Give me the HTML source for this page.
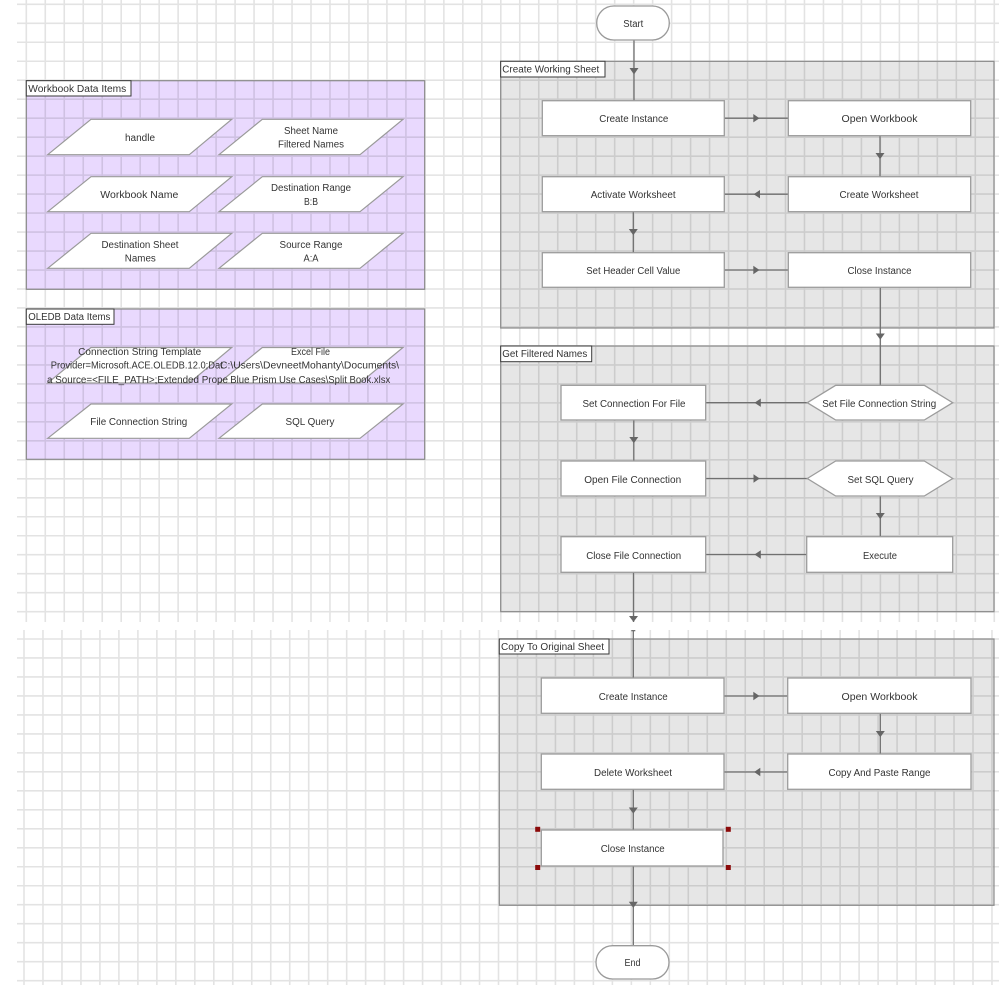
<!DOCTYPE html>
<html>
<head>
<meta charset="utf-8">
<style>
html,body{margin:0;padding:0;background:#fff;}
svg{display:block;}
text{font-family:"Liberation Sans",Arial,sans-serif;font-size:10px;fill:#333;}
</style>
</head>
<body>
<svg width="999" height="985" viewBox="0 0 999 985" xmlns="http://www.w3.org/2000/svg">

<!-- background -->
<rect x="0" y="0" width="999" height="985" fill="#fff"/>

<!-- group fills -->
<rect x="26.3" y="80.7" width="398.4" height="208.6" fill="#e9d9fe"/>
<rect x="26.3" y="309" width="398.4" height="150.3" fill="#e9d9fe"/>
<rect x="500.7" y="61.3" width="493.3" height="266.7" fill="#e6e6e6"/>
<rect x="500.7" y="346" width="493.3" height="265.7" fill="#e6e6e6"/>
<rect x="499.3" y="639" width="494.7" height="266.3" fill="#e6e6e6"/>

<!-- grid upper -->
<path fill="none" stroke="rgba(0,0,0,0.11)" stroke-width="1.6" d="
M26.3 0V622M45.28 0V622M64.26 0V622M83.24 0V622M102.22 0V622M121.2 0V622M140.18 0V622M159.16 0V622M178.14 0V622M197.12 0V622
M216.1 0V622M235.08 0V622M254.06 0V622M273.04 0V622M292.02 0V622M311 0V622M329.98 0V622M348.96 0V622M367.94 0V622M386.92 0V622
M405.9 0V622M424.88 0V622M443.86 0V622M462.84 0V622M481.82 0V622M500.8 0V622M519.78 0V622M538.76 0V622M557.74 0V622M576.72 0V622
M595.7 0V622M614.68 0V622M633.66 0V622M652.64 0V622M671.62 0V622M690.6 0V622M709.58 0V622M728.56 0V622M747.54 0V622M766.52 0V622
M785.5 0V622M804.48 0V622M823.46 0V622M842.44 0V622M861.42 0V622M880.4 0V622M899.38 0V622M918.36 0V622M937.34 0V622M956.32 0V622
M975.3 0V622M994.28 0V622
M17 4.3H999M17 23.28H999M17 42.26H999M17 61.24H999M17 80.22H999M17 99.2H999M17 118.18H999M17 137.16H999M17 156.14H999M17 175.12H999
M17 194.1H999M17 213.08H999M17 232.06H999M17 251.04H999M17 270.02H999M17 289H999M17 307.98H999M17 326.96H999M17 345.94H999M17 364.92H999
M17 383.9H999M17 402.88H999M17 421.86H999M17 440.84H999M17 459.82H999M17 478.8H999M17 497.78H999M17 516.76H999M17 535.74H999M17 554.72H999
M17 573.7H999M17 592.68H999M17 611.66H999"/>

<!-- grid lower -->
<path fill="none" stroke="rgba(0,0,0,0.11)" stroke-width="1.6" d="
M24 630V985M42.98 630V985M61.96 630V985M80.94 630V985M99.92 630V985M118.9 630V985M137.88 630V985M156.86 630V985M175.84 630V985M194.82 630V985
M213.8 630V985M232.78 630V985M251.76 630V985M270.74 630V985M289.72 630V985M308.7 630V985M327.68 630V985M346.66 630V985M365.64 630V985M384.62 630V985
M403.6 630V985M422.58 630V985M441.56 630V985M460.54 630V985M479.52 630V985M498.5 630V985M517.48 630V985M536.46 630V985M555.44 630V985M574.42 630V985
M593.4 630V985M612.38 630V985M631.36 630V985M650.34 630V985M669.32 630V985M688.3 630V985M707.28 630V985M726.26 630V985M745.24 630V985M764.22 630V985
M783.2 630V985M802.18 630V985M821.16 630V985M840.14 630V985M859.12 630V985M878.1 630V985M897.08 630V985M916.06 630V985M935.04 630V985M954.02 630V985
M973 630V985M991.98 630V985
M17 639H999M17 657.98H999M17 676.96H999M17 695.94H999M17 714.92H999M17 733.9H999M17 752.88H999M17 771.86H999M17 790.84H999M17 809.82H999
M17 828.8H999M17 847.78H999M17 866.76H999M17 885.74H999M17 904.72H999M17 923.7H999M17 942.68H999M17 961.66H999M17 980.64H999"/>

<!-- group borders -->
<g fill="none" stroke="#8a8a8a" stroke-width="1.2">
  <rect x="26.3" y="80.7" width="398.4" height="208.6"/>
  <rect x="26.3" y="309" width="398.4" height="150.3"/>
  <rect x="500.7" y="61.3" width="493.3" height="266.7"/>
  <rect x="500.7" y="346" width="493.3" height="265.7"/>
  <rect x="499.3" y="639" width="494.7" height="266.3"/>
</g>

<!-- connectors -->
<g stroke="#707070" stroke-width="1.3" fill="none">
  <line x1="634" y1="40" x2="634" y2="100.7"/>
  <line x1="724.3" y1="118.2" x2="788.3" y2="118.2"/>
  <line x1="880" y1="135.7" x2="880" y2="176.7"/>
  <line x1="724.3" y1="194.2" x2="788.3" y2="194.2"/>
  <line x1="633.3" y1="211.7" x2="633.3" y2="252.7"/>
  <line x1="724.3" y1="270" x2="788.3" y2="270"/>
  <line x1="880.3" y1="287.3" x2="880.3" y2="385.3"/>
  <line x1="705.7" y1="402.7" x2="807.3" y2="402.7"/>
  <line x1="633.8" y1="420" x2="633.8" y2="461"/>
  <line x1="705.7" y1="478.5" x2="807.3" y2="478.5"/>
  <line x1="880.3" y1="496" x2="880.3" y2="536.7"/>
  <line x1="705.7" y1="554.5" x2="806.7" y2="554.5"/>
  <line x1="633.5" y1="572.3" x2="633.5" y2="622"/>
  <line x1="633.3" y1="631" x2="633.3" y2="678"/>
  <line x1="724" y1="696" x2="787.7" y2="696"/>
  <line x1="880.3" y1="713.3" x2="880.3" y2="754"/>
  <line x1="724" y1="772" x2="787.7" y2="772"/>
  <line x1="633.3" y1="789.3" x2="633.3" y2="830"/>
  <line x1="633.3" y1="866" x2="633.3" y2="946"/>
</g>
<rect x="631.3" y="630" width="4" height="1.3" fill="#707070"/>

<!-- arrowheads -->
<g fill="#666">
  <polygon points="629.5,68 638.5,68 634,74.5"/>
  <polygon points="753.3,114 753.3,122.4 759.5,118.2"/>
  <polygon points="875.5,153 884.5,153 880,159.3"/>
  <polygon points="760,190 760,198.4 753.6,194.2"/>
  <polygon points="628.8,229 637.8,229 633.3,235.3"/>
  <polygon points="753.3,265.8 753.3,274.2 759.5,270"/>
  <polygon points="875.8,333.5 884.8,333.5 880.3,339.8"/>
  <polygon points="760.8,398.5 760.8,406.9 754.5,402.7"/>
  <polygon points="629.3,437 638.3,437 633.8,443.3"/>
  <polygon points="753.5,474.3 753.5,482.7 759.7,478.5"/>
  <polygon points="875.8,513 884.8,513 880.3,519.3"/>
  <polygon points="760.8,550.3 760.8,558.7 754.5,554.5"/>
  <polygon points="629,616 638,616 633.5,622"/>
  <polygon points="753.3,691.8 753.3,700.2 759.5,696"/>
  <polygon points="875.8,731 884.8,731 880.3,737.2"/>
  <polygon points="760.3,767.8 760.3,776.2 754.1,772"/>
  <polygon points="628.8,807.5 637.8,807.5 633.3,813.7"/>
  <polygon points="628.8,901.8 637.8,901.8 633.3,908"/>
</g>

<!-- terminals -->
<g fill="#fff" stroke="#9a9a9a" stroke-width="1.3">
  <rect x="596.7" y="6" width="72.6" height="34" rx="17" ry="17"/>
  <rect x="596" y="945.7" width="73" height="33.3" rx="16.6" ry="16.6"/>
</g>

<!-- process nodes -->
<g fill="#fff" stroke="#9c9c9c" stroke-width="1.3">
  <rect x="542.3" y="100.7" width="182" height="35"/>
  <rect x="788.3" y="100.7" width="182.4" height="35"/>
  <rect x="542.3" y="176.7" width="182" height="35"/>
  <rect x="788.3" y="176.7" width="182.4" height="35"/>
  <rect x="542.3" y="252.7" width="182" height="34.6"/>
  <rect x="788.3" y="252.7" width="182.4" height="34.6"/>

  <rect x="561" y="385.3" width="144.7" height="34.7"/>
  <polygon points="807.3,402.7 835.7,385.3 924.3,385.3 952.7,402.7 924.3,420 835.7,420"/>
  <rect x="561" y="461" width="144.7" height="35"/>
  <polygon points="807.3,478.5 835.7,461 924.3,461 952.7,478.5 924.3,496 835.7,496"/>
  <rect x="561" y="536.7" width="144.7" height="35.6"/>
  <rect x="806.7" y="536.7" width="146" height="35.6"/>

  <rect x="541.3" y="678" width="182.7" height="35.3"/>
  <rect x="787.7" y="678" width="183.3" height="35.3"/>
  <rect x="541.3" y="754" width="182.7" height="35.3"/>
  <rect x="787.7" y="754" width="183.3" height="35.3"/>
  <rect x="541.3" y="830" width="181.7" height="36"/>
</g>

<!-- data item parallelograms -->
<g fill="#fff" stroke="#9a9a9a" stroke-width="1.2">
  <polygon points="47.7,154.7 91,119.3 231.7,119.3 189.3,154.7"/>
  <polygon points="219,154.7 262.3,119.3 403,119.3 360,154.7"/>
  <polygon points="47.7,211.7 91,176.7 231.7,176.7 189.3,211.7"/>
  <polygon points="219,211.7 262.3,176.7 403,176.7 360,211.7"/>
  <polygon points="47.7,268.3 91,233.3 231.7,233.3 189.3,268.3"/>
  <polygon points="219,268.3 262.3,233.3 403,233.3 360,268.3"/>
  <polygon points="47.7,383 91,347.5 231.7,347.5 189.3,383"/>
  <polygon points="219,383 262.3,347.5 403,347.5 360,383"/>
  <polygon points="47.7,438.3 91,404 231.7,404 189.3,438.3"/>
  <polygon points="219,438.3 262.3,404 403,404 360,438.3"/>
</g>

<!-- group label boxes -->
<g fill="#fff" stroke="#3a3a3a" stroke-width="1">
  <rect x="26.3" y="80.7" width="104.7" height="15.3"/>
  <rect x="26.3" y="309" width="87.7" height="15.3"/>
  <rect x="500.7" y="61.3" width="104.3" height="15.7"/>
  <rect x="500.7" y="346" width="91" height="15.7"/>
  <rect x="499.3" y="639" width="109.7" height="15"/>
</g>

<!-- selection handles -->
<g fill="#8b0a0a">
  <rect x="535.2" y="826.8" width="5" height="5"/>
  <rect x="725.8" y="826.8" width="5" height="5"/>
  <rect x="535.2" y="865" width="5" height="5"/>
  <rect x="725.8" y="865" width="5" height="5"/>
</g>

<!-- label texts (left aligned) -->
<g>
  <text x="28.3" y="91.8" textLength="98" lengthAdjust="spacingAndGlyphs">Workbook Data Items</text>
  <text x="28.3" y="319.8" textLength="82" lengthAdjust="spacingAndGlyphs">OLEDB Data Items</text>
  <text x="502.3" y="72.5" textLength="97" lengthAdjust="spacingAndGlyphs">Create Working Sheet</text>
  <text x="502.3" y="356.8" textLength="85" lengthAdjust="spacingAndGlyphs">Get Filtered Names</text>
  <text x="501" y="650.2" textLength="103" lengthAdjust="spacingAndGlyphs">Copy To Original Sheet</text>
</g>

<!-- centered texts -->
<g text-anchor="middle">
  <text x="140" y="141.2" textLength="30" lengthAdjust="spacingAndGlyphs">handle</text>
  <text x="311" y="133.8" textLength="54" lengthAdjust="spacingAndGlyphs">Sheet Name</text>
  <text x="311" y="147.5" textLength="66" lengthAdjust="spacingAndGlyphs">Filtered Names</text>
  <text x="139.3" y="197.8" textLength="78" lengthAdjust="spacingAndGlyphs">Workbook Name</text>
  <text x="311" y="190.8" textLength="80" lengthAdjust="spacingAndGlyphs">Destination Range</text>
  <text x="311" y="204.8" textLength="14" lengthAdjust="spacingAndGlyphs">B:B</text>
  <text x="140" y="247.8" textLength="77" lengthAdjust="spacingAndGlyphs">Destination Sheet</text>
  <text x="140.3" y="261.5" textLength="31" lengthAdjust="spacingAndGlyphs">Names</text>
  <text x="311" y="247.8" textLength="63" lengthAdjust="spacingAndGlyphs">Source Range</text>
  <text x="311" y="261.5" textLength="15" lengthAdjust="spacingAndGlyphs">A:A</text>

  <text x="139.7" y="355.2" textLength="123" lengthAdjust="spacingAndGlyphs">Connection String Template</text>
  <text x="136.8" y="368.5" textLength="172" lengthAdjust="spacingAndGlyphs">Provider=Microsoft.ACE.OLEDB.12.0;Dat</text>
  <text x="137.5" y="382.8" textLength="181" lengthAdjust="spacingAndGlyphs">a Source=&lt;FILE_PATH&gt;;Extended Prope</text>
  <text x="310.5" y="355.2" textLength="39" lengthAdjust="spacingAndGlyphs">Excel File</text>
  <text x="309.5" y="368.5" textLength="179" lengthAdjust="spacingAndGlyphs">C:\Users\DevneetMohanty\Documents\</text>
  <text x="310.3" y="382.8" textLength="160" lengthAdjust="spacingAndGlyphs">Blue Prism Use Cases\Split Book.xlsx</text>
  <text x="138.8" y="425.2" textLength="97" lengthAdjust="spacingAndGlyphs">File Connection String</text>
  <text x="310" y="425.2" textLength="49" lengthAdjust="spacingAndGlyphs">SQL Query</text>

  <text x="633.3" y="26.8" textLength="20" lengthAdjust="spacingAndGlyphs">Start</text>
  <text x="633.8" y="121.8" textLength="69" lengthAdjust="spacingAndGlyphs">Create Instance</text>
  <text x="879.5" y="121.8" textLength="76" lengthAdjust="spacingAndGlyphs">Open Workbook</text>
  <text x="633.2" y="197.8" textLength="85" lengthAdjust="spacingAndGlyphs">Activate Worksheet</text>
  <text x="879" y="197.8" textLength="79" lengthAdjust="spacingAndGlyphs">Create Worksheet</text>
  <text x="633.3" y="273.8" textLength="94" lengthAdjust="spacingAndGlyphs">Set Header Cell Value</text>
  <text x="879.5" y="273.8" textLength="64" lengthAdjust="spacingAndGlyphs">Close Instance</text>

  <text x="634" y="406.8" textLength="103" lengthAdjust="spacingAndGlyphs">Set Connection For File</text>
  <text x="879.2" y="406.8" textLength="114" lengthAdjust="spacingAndGlyphs">Set File Connection String</text>
  <text x="632.7" y="482.8" textLength="97" lengthAdjust="spacingAndGlyphs">Open File Connection</text>
  <text x="880.5" y="482.8" textLength="66" lengthAdjust="spacingAndGlyphs">Set SQL Query</text>
  <text x="633.7" y="558.8" textLength="95" lengthAdjust="spacingAndGlyphs">Close File Connection</text>
  <text x="880" y="558.8" textLength="34" lengthAdjust="spacingAndGlyphs">Execute</text>

  <text x="633.2" y="699.8" textLength="69" lengthAdjust="spacingAndGlyphs">Create Instance</text>
  <text x="879.5" y="699.8" textLength="76" lengthAdjust="spacingAndGlyphs">Open Workbook</text>
  <text x="633" y="776.2" textLength="78" lengthAdjust="spacingAndGlyphs">Delete Worksheet</text>
  <text x="879.5" y="776.2" textLength="102" lengthAdjust="spacingAndGlyphs">Copy And Paste Range</text>
  <text x="632.7" y="852.2" textLength="64" lengthAdjust="spacingAndGlyphs">Close Instance</text>
  <text x="632.5" y="966.2" textLength="16" lengthAdjust="spacingAndGlyphs">End</text>
</g>
</svg>
</body>
</html>
